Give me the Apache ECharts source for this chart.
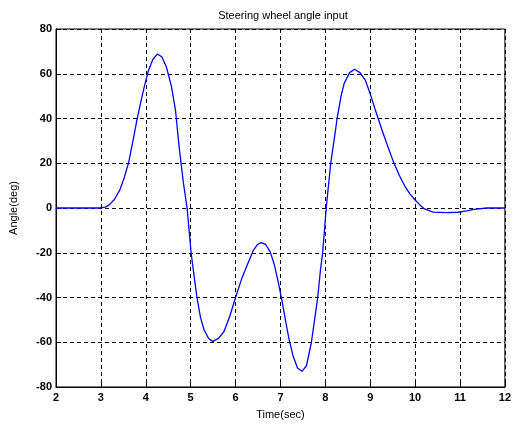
<!DOCTYPE html>
<html><head><meta charset="utf-8">
<script src="https://cdn.jsdelivr.net/npm/echarts@6/dist/echarts.min.js"></script>
<style>html,body{margin:0;padding:0;background:#fff}#c{width:514px;height:426px}</style>
</head><body><div id="c"></div>
<script>
var times = [2, 2.5, 2.96, 3.1, 3.18, 3.3, 3.42, 3.52, 3.62, 3.71, 3.8, 3.89, 3.97, 4.06, 4.16, 4.26, 4.36, 4.46, 4.57, 4.66, 4.75, 4.84, 4.92, 5.01, 5.08, 5.14, 5.22, 5.30, 5.40, 5.49, 5.62, 5.74, 5.87, 6.0, 6.13, 6.26, 6.40, 6.49, 6.57, 6.67, 6.77, 6.86, 6.95, 7.03, 7.11, 7.19, 7.28, 7.38, 7.48, 7.58, 7.69, 7.76, 7.83, 7.89, 7.94, 8.02, 8.12, 8.2, 8.27, 8.35, 8.42, 8.54, 8.65, 8.77, 8.89, 9.0, 9.11, 9.26, 9.4, 9.52, 9.65, 9.77, 9.88, 9.99, 10.1, 10.21, 10.4, 10.7, 10.95, 11.15, 11.31, 11.6, 12];
var angles = [0, 0, 0, 0.4, 1.3, 3.8, 8, 13.5, 20.5, 29.5, 39, 47.5, 54.5, 61.5, 66.5, 68.8, 67.5, 63, 54.5, 44, 26, 11, 0, -20, -31, -40, -49, -54.5, -58.3, -59.6, -58.3, -55.3, -48.5, -40, -32, -25.5, -18.8, -16.3, -15.5, -16.3, -19.5, -25, -33, -41, -50, -58.5, -66, -71.5, -73, -70.5, -60, -50, -40, -28, -20, 0, 20, 31, 41, 50, 55.7, 60.5, 62, 60.5, 57.2, 51, 44, 35, 27, 20.5, 14.5, 9.8, 6.4, 3.8, 1.5, -0.4, -1.8, -2.1, -1.9, -1.3, -0.6, 0, 0];
var xTicks = [2, 3, 4, 5, 6, 7, 8, 9, 10, 11, 12];
var yTicks = [-80, -60, -40, -20, 0, 20, 40, 60, 80];
var pts = times.map(function (t, i) { return [t, angles[i]]; });
var font = 'Liberation Sans';
var chart = echarts.init(document.getElementById('c'));
chart.setOption({
  animation: false,
  title: { text: 'Steering wheel angle input', left: 278, top: 5, textAlign: 'center',
    textStyle: { fontFamily: font, fontSize: 11, fontWeight: 'normal', color: '#000' } },
  grid: { left: 53, top: 29, width: 455, height: 358, show: true, borderColor: '#000', borderWidth: 1, backgroundColor: '#fff' },
  xAxis: { type: 'value', min: 2, max: 12, interval: 1,
    name: 'Time(sec)', nameLocation: 'middle', nameGap: 22,
    nameTextStyle: { fontFamily: font, fontSize: 11, color: '#000' },
    axisLine: { show: true, onZero: false, lineStyle: { color: '#000' } },
    axisTick: { show: true, inside: true, length: 5, lineStyle: { color: '#000' } },
    axisLabel: { fontFamily: font, fontSize: 11, color: '#000', fontWeight: 'bold', margin: 5 },
    splitLine: { show: true, lineStyle: { color: '#000', type: [4, 3], width: 1 } } },
  yAxis: { type: 'value', min: -80, max: 80, interval: 20,
    name: 'Angle(deg)', nameLocation: 'middle', nameGap: 37, nameRotate: 90,
    nameTextStyle: { fontFamily: font, fontSize: 11, color: '#000' },
    axisLine: { show: true, onZero: false, lineStyle: { color: '#000' } },
    axisTick: { show: true, inside: true, length: 5, lineStyle: { color: '#000' } },
    axisLabel: { fontFamily: font, fontSize: 11, color: '#000', fontWeight: 'bold', margin: 4 },
    splitLine: { show: true, lineStyle: { color: '#000', type: [4, 3], width: 1 } } },
  series: [{ type: 'line', data: pts, showSymbol: false, smooth: false,
    lineStyle: { color: '#0000ff', width: 1.3 } }]
});
</script></body></html>
